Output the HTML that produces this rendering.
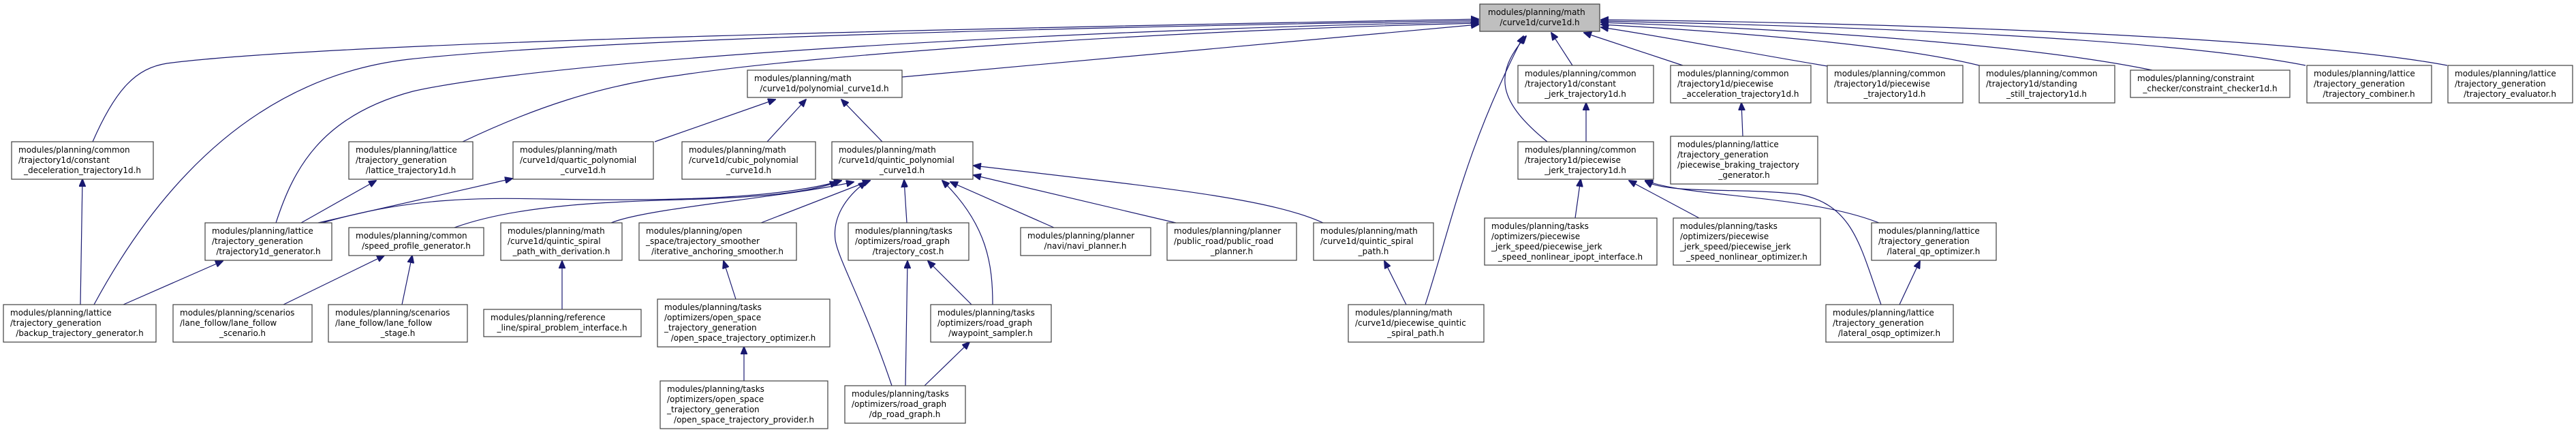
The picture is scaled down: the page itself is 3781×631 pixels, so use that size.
<!DOCTYPE html>
<html><head><meta charset="utf-8"><style>
html,body{margin:0;padding:0;background:#fff;width:3781px;height:631px;overflow:hidden}
svg text{font-family:"DejaVu Sans","Liberation Sans",sans-serif;font-size:12px;fill:#000}
.n{fill:#fff;stroke:#404040;stroke-width:1.2}
.e{fill:none;stroke:#191970;stroke-width:1.2}
</style></head><body>
<svg width="3781" height="631" viewBox="0 0 3781 631" xmlns="http://www.w3.org/2000/svg">
<defs><marker id="a" markerWidth="12" markerHeight="10" refX="11" refY="5" orient="auto" markerUnits="userSpaceOnUse"><path d="M0,0 L12,5 L0,10 z" fill="#191970" stroke="#191970"/></marker></defs>
<g class="e" marker-end="url(#a)">
<path d="M136,208 C170,130 200,100 245,93 C500,60 1500,40 2170,28"/>
<path d="M138,447 C250,240 400,110 600,87 C900,55 1600,40 2170,30"/>
<path d="M405,327 C430,250 470,170 606,134 C800,90 1500,45 2170,32"/>
<path d="M679,208 C780,160 880,125 1000,110 C1200,80 1700,45 2170,34"/>
<path d="M1324,113 L2170,36"/>
<path d="M2682,97 C2550,75 2450,55 2350,40"/>
<path d="M2905,96 C2800,70 2600,50 2350,36"/>
<path d="M3159,103 C3000,70 2700,45 2350,33"/>
<path d="M3384,96 C3200,60 2800,40 2350,31"/>
<path d="M3592,96 C3400,60 2900,35 2350,29"/>
<path d="M2092,447 C2130,330 2150,220 2236,53"/>
<path d="M2271,208 C2200,150 2190,110 2240,53"/>
<path d="M2308,96 L2277,48"/>
<path d="M2470,96 L2325,48"/>
<path d="M961,208 L1138,146"/>
<path d="M1126,208 L1183,146"/>
<path d="M1295,208 L1235,146"/>
<path d="M467,327 L752,262"/>
<path d="M442,327 L552,265"/>
<path d="M473,327 C600,290 700,290 800,292 C1000,296 1150,290 1235,265"/>
<path d="M667,334 C760,300 900,296 1000,293 C1100,290 1180,285 1229,267"/>
<path d="M897,327 C950,305 1150,290 1253,267"/>
<path d="M1117,327 L1277,265"/>
<path d="M1331,327 L1327,264"/>
<path d="M1309,566 C1270,450 1230,380 1226,352 C1222,320 1240,290 1271,267"/>
<path d="M1457,447 C1457,390 1450,330 1383,265"/>
<path d="M1547,334 L1395,267"/>
<path d="M1726,327 L1429,257"/>
<path d="M1942,327 C1860,290 1700,275 1429,243"/>
<path d="M1080,439 L1062,383"/>
<path d="M1092,559 L1092,509"/>
<path d="M1329,566 L1332,383"/>
<path d="M1357,566 L1423,502"/>
<path d="M1426,447 L1362,383"/>
<path d="M118,447 L121,263"/>
<path d="M181,447 L327,383"/>
<path d="M416,447 L564,375"/>
<path d="M590,447 L605,375"/>
<path d="M825,454 L825,383"/>
<path d="M2064,447 L2032,383"/>
<path d="M2328,208 L2328,151"/>
<path d="M2558,200 L2556,151"/>
<path d="M2312,320 L2320,263"/>
<path d="M2494,320 L2391,265"/>
<path d="M2758,327 C2650,285 2480,290 2415,265"/>
<path d="M2761,447 C2730,360 2720,300 2640,285 C2550,275 2450,285 2415,266"/>
<path d="M2788,447 L2818,383"/>
</g>
<g>
<rect x="2172" y="6" width="176" height="40" fill="#bfbfbf" stroke="#404040" stroke-width="1.2"/>
<text x="2184" y="22">modules/planning/math</text><text x="2260" y="37" text-anchor="middle">/curve1d/curve1d.h</text>

<rect class="n" x="17" y="208" width="208" height="55"/><text x="27" y="224">modules/planning/common</text><text x="27" y="239">/trajectory1d/constant</text><text x="121" y="254" text-anchor="middle">_deceleration_trajectory1d.h</text>
<rect class="n" x="5" y="447" width="224" height="55"/><text x="15" y="463">modules/planning/lattice</text><text x="15" y="478">/trajectory_generation</text><text x="117" y="493" text-anchor="middle">/backup_trajectory_generator.h</text>
<rect class="n" x="512" y="208" width="182" height="55"/><text x="522" y="224">modules/planning/lattice</text><text x="522" y="239">/trajectory_generation</text><text x="603" y="254" text-anchor="middle">/lattice_trajectory1d.h</text>
<rect class="n" x="753" y="208" width="206" height="55"/><text x="763" y="224">modules/planning/math</text><text x="763" y="239">/curve1d/quartic_polynomial</text><text x="856" y="254" text-anchor="middle">_curve1d.h</text>
<rect class="n" x="301" y="327" width="186" height="55"/><text x="311" y="343">modules/planning/lattice</text><text x="311" y="358">/trajectory_generation</text><text x="394" y="373" text-anchor="middle">/trajectory1d_generator.h</text>
<rect class="n" x="512" y="334" width="198" height="41"/><text x="522" y="350">modules/planning/common</text><text x="611" y="365" text-anchor="middle">/speed_profile_generator.h</text>
<rect class="n" x="254" y="447" width="204" height="55"/><text x="264" y="463">modules/planning/scenarios</text><text x="264" y="478">/lane_follow/lane_follow</text><text x="356" y="493" text-anchor="middle">_scenario.h</text>
<rect class="n" x="482" y="447" width="204" height="55"/><text x="492" y="463">modules/planning/scenarios</text><text x="492" y="478">/lane_follow/lane_follow</text><text x="584" y="493" text-anchor="middle">_stage.h</text>
<rect class="n" x="735" y="327" width="178" height="55"/><text x="745" y="343">modules/planning/math</text><text x="745" y="358">/curve1d/quintic_spiral</text><text x="824" y="373" text-anchor="middle">_path_with_derivation.h</text>
<rect class="n" x="710" y="454" width="231" height="40"/><text x="720" y="470">modules/planning/reference</text><text x="825" y="485" text-anchor="middle">_line/spiral_problem_interface.h</text>
<rect class="n" x="938" y="327" width="231" height="55"/><text x="948" y="343">modules/planning/open</text><text x="948" y="358">_space/trajectory_smoother</text><text x="1053" y="373" text-anchor="middle">/iterative_anchoring_smoother.h</text>
<rect class="n" x="1097" y="103" width="227" height="40"/><text x="1107" y="119">modules/planning/math</text><text x="1210" y="134" text-anchor="middle">/curve1d/polynomial_curve1d.h</text>
<rect class="n" x="1001" y="208" width="196" height="55"/><text x="1011" y="224">modules/planning/math</text><text x="1011" y="239">/curve1d/cubic_polynomial</text><text x="1099" y="254" text-anchor="middle">_curve1d.h</text>
<rect class="n" x="1221" y="208" width="207" height="55"/><text x="1231" y="224">modules/planning/math</text><text x="1231" y="239">/curve1d/quintic_polynomial</text><text x="1324" y="254" text-anchor="middle">_curve1d.h</text>
<rect class="n" x="965" y="439" width="253" height="70"/><text x="975" y="455">modules/planning/tasks</text><text x="975" y="470">/optimizers/open_space</text><text x="975" y="485">_trajectory_generation</text><text x="1091" y="500" text-anchor="middle">/open_space_trajectory_optimizer.h</text>
<rect class="n" x="969" y="559" width="246" height="70"/><text x="979" y="575">modules/planning/tasks</text><text x="979" y="590">/optimizers/open_space</text><text x="979" y="605">_trajectory_generation</text><text x="1092" y="620" text-anchor="middle">/open_space_trajectory_provider.h</text>
<rect class="n" x="1245" y="327" width="177" height="55"/><text x="1255" y="343">modules/planning/tasks</text><text x="1255" y="358">/optimizers/road_graph</text><text x="1333" y="373" text-anchor="middle">/trajectory_cost.h</text>
<rect class="n" x="1498" y="334" width="191" height="41"/><text x="1508" y="350">modules/planning/planner</text><text x="1593" y="365" text-anchor="middle">/navi/navi_planner.h</text>
<rect class="n" x="1713" y="327" width="190" height="55"/><text x="1723" y="343">modules/planning/planner</text><text x="1723" y="358">/public_road/public_road</text><text x="1808" y="373" text-anchor="middle">_planner.h</text>
<rect class="n" x="1366" y="447" width="177" height="55"/><text x="1376" y="463">modules/planning/tasks</text><text x="1376" y="478">/optimizers/road_graph</text><text x="1454" y="493" text-anchor="middle">/waypoint_sampler.h</text>
<rect class="n" x="1240" y="566" width="177" height="55"/><text x="1250" y="582">modules/planning/tasks</text><text x="1250" y="597">/optimizers/road_graph</text><text x="1328" y="612" text-anchor="middle">/dp_road_graph.h</text>
<rect class="n" x="1928" y="327" width="176" height="55"/><text x="1938" y="343">modules/planning/math</text><text x="1938" y="358">/curve1d/quintic_spiral</text><text x="2016" y="373" text-anchor="middle">_path.h</text>
<rect class="n" x="1979" y="447" width="199" height="55"/><text x="1989" y="463">modules/planning/math</text><text x="1989" y="478">/curve1d/piecewise_quintic</text><text x="2078" y="493" text-anchor="middle">_spiral_path.h</text>
<rect class="n" x="2228" y="96" width="199" height="55"/><text x="2238" y="112">modules/planning/common</text><text x="2238" y="127">/trajectory1d/constant</text><text x="2327" y="142" text-anchor="middle">_jerk_trajectory1d.h</text>
<rect class="n" x="2452" y="96" width="206" height="55"/><text x="2462" y="112">modules/planning/common</text><text x="2462" y="127">/trajectory1d/piecewise</text><text x="2555" y="142" text-anchor="middle">_acceleration_trajectory1d.h</text>
<rect class="n" x="2682" y="96" width="199" height="55"/><text x="2692" y="112">modules/planning/common</text><text x="2692" y="127">/trajectory1d/piecewise</text><text x="2781" y="142" text-anchor="middle">_trajectory1d.h</text>
<rect class="n" x="2228" y="208" width="199" height="55"/><text x="2238" y="224">modules/planning/common</text><text x="2238" y="239">/trajectory1d/piecewise</text><text x="2327" y="254" text-anchor="middle">_jerk_trajectory1d.h</text>
<rect class="n" x="2452" y="200" width="216" height="70"/><text x="2462" y="216">modules/planning/lattice</text><text x="2462" y="231">/trajectory_generation</text><text x="2462" y="246">/piecewise_braking_trajectory</text><text x="2560" y="261" text-anchor="middle">_generator.h</text>
<rect class="n" x="2179" y="320" width="253" height="69"/><text x="2189" y="336">modules/planning/tasks</text><text x="2189" y="351">/optimizers/piecewise</text><text x="2189" y="366">_jerk_speed/piecewise_jerk</text><text x="2305" y="381" text-anchor="middle">_speed_nonlinear_ipopt_interface.h</text>
<rect class="n" x="2456" y="320" width="216" height="69"/><text x="2466" y="336">modules/planning/tasks</text><text x="2466" y="351">/optimizers/piecewise</text><text x="2466" y="366">_jerk_speed/piecewise_jerk</text><text x="2564" y="381" text-anchor="middle">_speed_nonlinear_optimizer.h</text>
<rect class="n" x="2747" y="327" width="183" height="55"/><text x="2757" y="343">modules/planning/lattice</text><text x="2757" y="358">/trajectory_generation</text><text x="2838" y="373" text-anchor="middle">/lateral_qp_optimizer.h</text>
<rect class="n" x="2680" y="447" width="187" height="55"/><text x="2690" y="463">modules/planning/lattice</text><text x="2690" y="478">/trajectory_generation</text><text x="2773" y="493" text-anchor="middle">/lateral_osqp_optimizer.h</text>
<rect class="n" x="2905" y="96" width="199" height="55"/><text x="2915" y="112">modules/planning/common</text><text x="2915" y="127">/trajectory1d/standing</text><text x="3004" y="142" text-anchor="middle">_still_trajectory1d.h</text>
<rect class="n" x="3127" y="103" width="234" height="40"/><text x="3137" y="119">modules/planning/constraint</text><text x="3244" y="134" text-anchor="middle">_checker/constraint_checker1d.h</text>
<rect class="n" x="3386" y="96" width="183" height="55"/><text x="3396" y="112">modules/planning/lattice</text><text x="3396" y="127">/trajectory_generation</text><text x="3477" y="142" text-anchor="middle">/trajectory_combiner.h</text>
<rect class="n" x="3593" y="96" width="183" height="55"/><text x="3603" y="112">modules/planning/lattice</text><text x="3603" y="127">/trajectory_generation</text><text x="3684" y="142" text-anchor="middle">/trajectory_evaluator.h</text>
</g>
</svg>
</body></html>
